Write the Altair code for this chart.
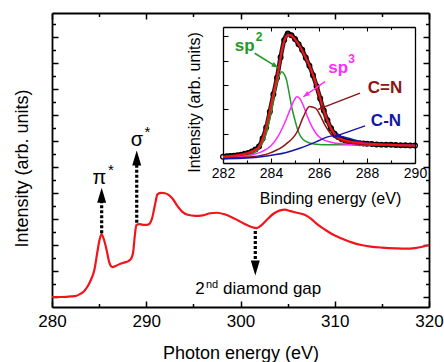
import math
import altair as alt
import pandas as pd

FONT = "Liberation Sans"

# ---------------- main NEXAFS spectrum ----------------
photon_energy = [280.0, 281.0, 282.0, 282.6, 283.0, 283.4, 283.8, 284.2, 284.5, 284.8, 285.0, 285.25,
                 285.5, 285.8, 286.1, 286.4, 286.8, 287.2, 287.7, 288.1, 288.4, 288.6, 288.8, 288.95,
                 289.3, 289.8, 290.2, 290.6, 290.9, 291.2, 291.6, 292.0, 292.4, 292.8, 293.3, 293.8,
                 294.4, 295.2, 296.0, 296.8, 297.5, 298.3, 299.0, 299.8, 300.5, 301.2, 301.7, 302.2,
                 302.8, 303.5, 304.2, 304.7, 305.3, 306.0, 306.8, 307.5, 308.2, 309.0, 309.8, 310.8,
                 311.8, 312.8, 313.8, 315.0, 316.5, 317.5, 318.5, 319.3, 320.0]
nexafs_intensity = [0.0, 0.0, 0.02, 0.05, 0.12, 0.22, 0.42, 0.72, 1.05, 1.7, 2.12, 2.42,
                    2.22, 1.8, 1.3, 1.15, 1.2, 1.27, 1.33, 1.38, 1.48, 1.7, 2.4, 2.77,
                    2.8, 2.77, 2.78, 3.0, 3.5, 3.95, 4.0, 3.99, 3.92, 3.78, 3.5, 3.28,
                    3.16, 3.12, 3.14, 3.22, 3.24, 3.18, 3.08, 2.93, 2.8, 2.69, 2.65, 2.75,
                    2.97, 3.2, 3.33, 3.36, 3.3, 3.24, 3.16, 3.0, 2.78, 2.58, 2.4, 2.24,
                    2.1, 2.0, 1.94, 1.9, 1.87, 1.86, 1.88, 1.93, 2.0]

main_x_ticks = [280, 285, 290, 295, 300, 305, 310, 315, 320]
main_y_ticks = [i * 0.5 for i in range(0, 22)]

# annotation arrows on the main spectrum (eV, intensity units)
arrow_x = [285.27, 288.99, 301.57]
arrow_from = [2.45, 2.85, 2.54]
arrow_to = [3.67, 5.08, 1.38]
arrow_tip = [4.20, 5.63, 0.83]
arrow_angle = [0, 0, 180]

symbol_text = ["π", "σ"]
symbol_x = [285.04, 289.02]
symbol_y = [4.58, 6.04]
star_x = [286.26, 290.13]
star_y = [4.88, 6.34]

gap_num = "2"
gap_num_x, gap_num_y = 295.70, 0.30
gap_sup = "nd"
gap_sup_x, gap_sup_y = 296.98, 0.48
gap_text = "diamond gap"
gap_text_x, gap_text_y = 298.14, 0.30

# ---------------- inset XPS C1s ----------------
xps_energy = [282.00, 282.15, 282.30, 282.45, 282.60, 282.75, 282.90, 283.05, 283.20, 283.35,
              283.50, 283.65, 283.80, 283.95, 284.10, 284.25, 284.40, 284.55, 284.70, 284.85,
              285.00, 285.15, 285.30, 285.45, 285.60, 285.75, 285.90, 286.05, 286.20, 286.35,
              286.50, 286.65, 286.80, 286.95, 287.10, 287.25, 287.40, 287.55, 287.70, 287.85,
              288.00, 288.20, 288.40, 288.60, 288.80, 289.00, 289.20, 289.40, 289.60, 289.80, 290.00]
xps_counts = [0.05, 0.07, 0.08, 0.09, 0.11, 0.13, 0.17, 0.21, 0.27, 0.35,
              0.47, 0.80, 1.25, 1.90, 2.62, 3.30, 4.15, 4.85, 5.12, 5.05,
              4.90, 4.68, 4.45, 4.12, 3.80, 3.40, 2.95, 2.45, 1.95, 1.55,
              1.22, 1.00, 0.86, 0.77, 0.71, 0.68, 0.65, 0.63, 0.61, 0.60,
              0.59, 0.58, 0.56, 0.55, 0.54, 0.54, 0.53, 0.52, 0.52, 0.51, 0.51]

fit_energy = [282.0, 282.5, 283.0, 283.3, 283.5, 283.7, 283.9, 284.1, 284.3, 284.45, 284.6, 284.72,
              284.85, 285.0, 285.2, 285.4, 285.6, 285.8, 286.0, 286.2, 286.4, 286.6, 286.8, 287.0,
              287.5, 288.0, 288.5, 289.0, 289.5, 290.0]
fit_values = [0.06, 0.10, 0.19, 0.31, 0.46, 0.92, 1.70, 2.62, 3.55, 4.40, 4.95, 5.07,
              5.03, 4.88, 4.60, 4.22, 3.80, 3.28, 2.62, 1.95, 1.42, 1.05, 0.85, 0.75,
              0.64, 0.59, 0.56, 0.54, 0.52, 0.51]

sp2_energy = [282.0, 282.6, 283.2, 283.5, 283.75, 284.0, 284.2, 284.35, 284.45, 284.55, 284.65,
              284.75, 284.85, 285.0, 285.15, 285.35, 285.6, 286.0, 287.0, 290.0]
sp2_values = [0.0, 0.05, 0.17, 0.40, 0.85, 1.85, 2.90, 3.40, 3.55, 3.45, 3.20,
              2.70, 2.15, 1.55, 1.05, 0.75, 0.62, 0.56, 0.54, 0.52]

sp3_energy = [282.0, 282.6, 283.2, 283.6, 284.0, 284.3, 284.55, 284.8, 284.95, 285.08, 285.2,
              285.35, 285.5, 285.7, 285.9, 286.1, 286.5, 287.0, 288.0, 290.0]
sp3_values = [0.0, 0.04, 0.12, 0.25, 0.50, 0.90, 1.40, 2.00, 2.35, 2.52, 2.45,
              2.15, 1.75, 1.30, 0.98, 0.80, 0.65, 0.58, 0.54, 0.52]

cn2_energy = [282.0, 283.2, 284.0, 284.6, 285.1, 285.35, 285.6, 285.85, 286.05, 286.25, 286.5,
              286.9, 287.4, 288.0, 290.0]
cn2_values = [0.0, 0.05, 0.22, 0.55, 1.10, 1.70, 2.12, 2.05, 1.75, 1.35, 0.98,
              0.72, 0.60, 0.55, 0.52]

cn1_energy = [282.0, 283.0, 283.6, 284.2, 284.6, 285.2, 285.6, 286.0, 286.3, 286.6, 286.9,
              287.2, 287.6, 288.0, 288.6, 289.3, 290.0]
cn1_values = [-0.03, 0.0, 0.05, 0.14, 0.22, 0.40, 0.55, 0.72, 0.85, 0.92, 0.90,
              0.82, 0.70, 0.62, 0.56, 0.53, 0.52]

component_names = ["sp2", "sp3", "C=N", "C-N"]
component_colors = ["#23992a", "#ff2bff", "#8e1414", "#1616a6"]

inset_x_ticks = [282, 283, 284, 285, 286, 287, 288, 289, 290]
inset_y_ticks = [0, 1, 2, 3, 4, 5]

# labels in the inset
label_main = ["sp", "sp", "C=N", "C-N"]
label_x = [282.90, 286.80, 288.75, 288.79]
label_y = [4.60, 3.69, 2.88, 1.52]
label_sup = ["2", "3"]
label_sup_x = [283.36, 287.22]
label_sup_y = [4.98, 4.08]

pointer_x0 = [283.32, 286.25, 287.71, 287.92]
pointer_y0 = [4.31, 3.14, 2.67, 1.32]
pointer_x1 = [284.29, 285.35, 285.96, 286.58]
pointer_y1 = [3.72, 2.52, 2.00, 0.86]

# ---------------- scales ----------------
main_xs = alt.Scale(domain=[280, 320], nice=False, zero=False)
main_ys = alt.Scale(domain=[-0.385, 10.92], nice=False, zero=False)
ins_xs = alt.Scale(domain=[282, 290], range=[171, 363], nice=False, zero=False)
ins_ys = alt.Scale(domain=[-0.206, 5.39], range=[150, 14], nice=False, zero=False)

common_axis = dict(grid=False, domainColor="black", tickColor="black", labelColor="black",
                   titleColor="black", labelFont=FONT, titleFont=FONT, titleFontWeight="normal",
                   labelFlush=False, labelOverlap=False)

ax_main_bottom = alt.Axis(orient="bottom", values=main_x_ticks,
                          labelExpr="datum.value % 10 === 0 ? datum.label : ''",
                          tickSize={"condition": {"test": "datum.value % 10 === 0", "value": -6}, "value": -3.5},
                          labelPadding=12, labelFontSize=17, domainWidth=1.8, tickWidth=1.5,
                          title="Photon energy (eV)", titleFontSize=18, titleY=46, titleBaseline="middle",
                          **common_axis)
ax_main_left = alt.Axis(orient="left", values=main_y_ticks, labels=False,
                        tickSize={"condition": {"test": "datum.value % 1 === 0", "value": -6}, "value": -3.5},
                        domainWidth=1.8, tickWidth=1.5,
                        title="Intensity (arb. units)", titleFontSize=18, titleX=-30, titleY=155,
                        titleBaseline="middle", **common_axis)
ax_main_top = alt.Axis(orient="top", values=main_x_ticks, labels=False, title=None,
                       tickSize={"condition": {"test": "datum.value % 10 === 0", "value": -6}, "value": -3.5},
                       domainWidth=1.8, tickWidth=1.5, **common_axis)
ax_main_right = alt.Axis(orient="right", values=main_y_ticks, labels=False, title=None,
                         tickSize={"condition": {"test": "datum.value % 1 === 0", "value": -6}, "value": -3.5},
                         domainWidth=1.8, tickWidth=1.5, **common_axis)

ax_ins_bottom = alt.Axis(orient="bottom", offset=-144, values=inset_x_ticks,
                         labelExpr="datum.value % 2 === 0 ? datum.label : ''",
                         tickSize={"condition": {"test": "datum.value % 2 === 0", "value": -5}, "value": -3},
                         labelPadding=8, labelFontSize=14, domainWidth=1.3, tickWidth=1.1,
                         title="Binding energy (eV)", titleFontSize=16, titleX=278, titleY=35,
                         titleBaseline="middle", **common_axis)
ax_ins_left = alt.Axis(orient="left", offset=-171, values=inset_y_ticks, labels=False,
                       tickSize={"condition": {"test": "datum.value >= 0", "value": -5}, "value": -5},
                       domainWidth=1.3, tickWidth=1.1,
                       title="Intensity (arb. units)", titleFontSize=16, titleX=-29, titleY=89,
                       titleBaseline="middle", **common_axis)
ax_ins_top = alt.Axis(orient="top", offset=-14, values=inset_x_ticks, labels=False, title=None,
                      tickSize={"condition": {"test": "datum.value % 2 === 0", "value": -4}, "value": -2.5},
                      domainWidth=1.3, tickWidth=1.0, **common_axis)
ax_ins_right = alt.Axis(orient="right", offset=-14, values=inset_y_ticks, labels=False, title=None,
                        ticks=False, domainWidth=1.3, **common_axis)

# ---------------- data frames ----------------
main_df = pd.DataFrame({"E": photon_energy, "I": nexafs_intensity})

arrows_df = pd.DataFrame({"x": arrow_x, "y0": arrow_from, "y1": arrow_to,
                          "tip": arrow_tip, "ang": arrow_angle})
sym_df = pd.DataFrame({"t": symbol_text, "x": symbol_x, "y": symbol_y})
star_df = pd.DataFrame({"t": ["*", "*"], "x": star_x, "y": star_y})
gap_big_df = pd.DataFrame({"t": [gap_num], "x": [gap_num_x], "y": [gap_num_y]})
gap_sup_df = pd.DataFrame({"t": [gap_sup], "x": [gap_sup_x], "y": [gap_sup_y]})
gap_txt_df = pd.DataFrame({"t": [gap_text], "x": [gap_text_x], "y": [gap_text_y]})

xps_df = pd.DataFrame({"E": xps_energy, "v": xps_counts})
fit_df = pd.DataFrame({"E": fit_energy, "v": fit_values})
comp_frames = []
for name, en, vals in zip(component_names,
                          [sp2_energy, sp3_energy, cn2_energy, cn1_energy],
                          [sp2_values, sp3_values, cn2_values, cn1_values]):
    comp_frames.append(pd.DataFrame({"E": en, "v": vals, "comp": name}))
comp_df = pd.concat(comp_frames, ignore_index=True)

def head_angle(e0, v0, e1, v1):
    dx = (e1 - e0) * 24.0
    dy = -(v1 - v0) * 24.3
    return (math.degrees(math.atan2(dx, -dy)) + 360) % 360

pointer_df = pd.DataFrame({
    "x0": pointer_x0, "y0": pointer_y0, "x1": pointer_x1, "y1": pointer_y1,
    "comp": component_names,
    "ang": [head_angle(a, b, c, d) for a, b, c, d in zip(pointer_x0, pointer_y0, pointer_x1, pointer_y1)],
})
lab_df = pd.DataFrame({"t": label_main, "x": label_x, "y": label_y, "comp": component_names})
sup_df = pd.DataFrame({"t": label_sup, "x": label_sup_x, "y": label_sup_y, "comp": ["sp2", "sp3"]})

comp_color = alt.Color("comp:N", scale=alt.Scale(domain=component_names, range=component_colors), legend=None)

def MX(f, axis=None):
    return alt.X(f, type="quantitative", scale=main_xs, axis=axis)

def MY(f, axis=None):
    return alt.Y(f, type="quantitative", scale=main_ys, axis=axis)

def IX(f, axis=None):
    return alt.X(f, type="quantitative", scale=ins_xs, axis=axis)

def IY(f, axis=None):
    return alt.Y(f, type="quantitative", scale=ins_ys, axis=axis)

# ---------------- main layers ----------------
main_line = alt.Chart(main_df).mark_line(color="#f2141b", strokeWidth=2.2, interpolate="monotone").encode(
    x=MX("E", ax_main_bottom), y=MY("I", ax_main_left))
main_frame = alt.Chart(main_df).mark_line(opacity=0).encode(
    x=MX("E", ax_main_top), y=MY("I", ax_main_right))

arrow_lines = alt.Chart(arrows_df).mark_rule(color="black", strokeWidth=3.2, strokeDash=[3, 2]).encode(
    x=MX("x"), y=MY("y0"), y2="y1")
arrow_heads = alt.Chart(arrows_df).mark_point(shape="M0,0L0.6,2L-0.6,2Z", filled=True, color="black",
                                             opacity=1, size=225, strokeWidth=0).encode(
    x=MX("x"), y=MY("tip"), angle=alt.Angle("ang:Q", scale=None))
sym_text = alt.Chart(sym_df).mark_text(font=FONT, fontSize=20, color="black", baseline="middle").encode(
    x=MX("x"), y=MY("y"), text="t:N")
star_text = alt.Chart(star_df).mark_text(font=FONT, fontSize=15, color="black", baseline="middle").encode(
    x=MX("x"), y=MY("y"), text="t:N")
gap_big = alt.Chart(gap_big_df).mark_text(font=FONT, fontSize=17, color="black", baseline="middle").encode(
    x=MX("x"), y=MY("y"), text="t:N")
gap_small = alt.Chart(gap_sup_df).mark_text(font=FONT, fontSize=11, color="black", baseline="middle").encode(
    x=MX("x"), y=MY("y"), text="t:N")
gap_words = alt.Chart(gap_txt_df).mark_text(font=FONT, fontSize=17, color="black", baseline="middle",
                                           align="left").encode(
    x=MX("x"), y=MY("y"), text="t:N")

# ---------------- inset layers ----------------
xps_band = alt.Chart(xps_df).mark_line(color="#222222", strokeWidth=4.5, interpolate="monotone").encode(
    x=IX("E"), y=IY("v"))
xps_points = alt.Chart(xps_df).mark_point(shape="circle", filled=False, color="black", size=22,
                                         strokeWidth=1.3, opacity=1).encode(
    x=IX("E", ax_ins_bottom), y=IY("v", ax_ins_left))
comp_lines = alt.Chart(comp_df).mark_line(strokeWidth=1.5, interpolate="monotone").encode(
    x=IX("E"), y=IY("v"), color=comp_color, detail="comp:N")
fit_line = alt.Chart(fit_df).mark_line(color="#f2141b", strokeWidth=2.2, interpolate="monotone").encode(
    x=IX("E", ax_ins_top), y=IY("v", ax_ins_right))
pointer_lines = alt.Chart(pointer_df).mark_rule(strokeWidth=1.5).encode(
    x=IX("x0"), x2="x1", y=IY("y0"), y2="y1", color=comp_color)
pointer_heads = alt.Chart(pointer_df).mark_point(shape="M0,0L0.8,2L-0.8,2Z", filled=True, opacity=1,
                                                size=40, strokeWidth=0).encode(
    x=IX("x1"), y=IY("y1"), angle=alt.Angle("ang:Q", scale=None), color=comp_color)
lab_text = alt.Chart(lab_df).mark_text(font=FONT, fontSize=17, fontWeight="bold", baseline="middle").encode(
    x=IX("x"), y=IY("y"), text="t:N", color=comp_color)
sup_text = alt.Chart(sup_df).mark_text(font=FONT, fontSize=12, fontWeight="bold", baseline="middle",
                                      align="left").encode(
    x=IX("x"), y=IY("y"), text="t:N", color=comp_color)

chart = alt.layer(
    main_line, main_frame, arrow_lines, arrow_heads, sym_text, star_text, gap_big, gap_small, gap_words,
    xps_band, xps_points, comp_lines, fit_line, pointer_lines, pointer_heads, lab_text, sup_text,
).resolve_scale(
    x="independent", y="independent", color="shared"
).resolve_axis(
    x="independent", y="independent"
).properties(
    width=377, height=294, autosize="none",
    padding={"left": 52, "top": 13, "right": 15, "bottom": 55},
    background="white",
).configure_view(stroke=None)

chart.save("out.html", embed_options={"renderer": "svg", "actions": False})
